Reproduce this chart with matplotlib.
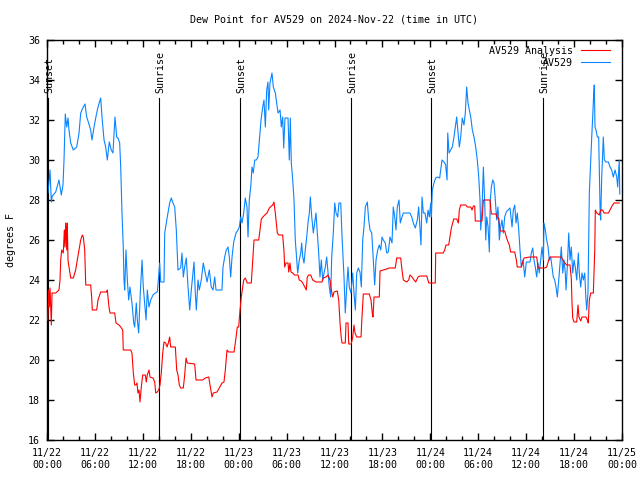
import matplotlib
matplotlib.use("Agg")
import matplotlib.pyplot as plt
from matplotlib.ticker import MultipleLocator

# hours since 2024-11-22 00:00 UTC
obs_hours = [
    0.13, 0.38, 0.54, 0.66, 1.09, 1.50, 1.79, 2.00, 2.13, 2.29, 2.47, 2.63, 2.75, 2.97,
    3.29, 3.72, 4.01, 4.22, 4.55, 4.76, 4.97, 5.17, 5.47, 5.63, 5.89, 6.17, 6.39, 6.72,
    6.92, 7.14, 7.35, 7.55, 7.80, 8.05, 8.26, 8.51, 8.73, 8.89, 9.10, 9.23, 9.39, 9.55,
    9.64, 9.73, 9.89, 10.06, 10.23, 10.39, 10.64, 10.86, 10.98, 11.18, 11.31, 11.48,
    11.68, 11.90, 12.06, 12.23, 12.40, 12.56, 12.77, 12.99, 13.27, 13.56, 13.81, 13.94,
    14.11, 14.24, 14.65, 14.74, 15.06, 15.36, 15.56, 15.78, 15.99, 16.19, 16.40, 16.74,
    16.90, 17.07, 17.24, 17.44, 17.66, 17.87, 18.07, 18.28, 18.41, 18.57, 18.70, 18.91,
    19.07, 19.32, 19.57, 19.82, 20.04, 20.32, 20.57, 20.79, 21.00, 21.16, 21.91, 22.04,
    22.25, 22.45, 22.66, 22.83, 23.00, 23.17, 23.38, 23.67, 23.92, 24.08, 24.26, 24.42,
    24.63, 24.83, 25.04, 25.17, 25.33, 25.51, 25.67, 25.83, 26.01, 26.21, 26.42, 26.63,
    26.80, 27.01, 27.17, 27.34, 27.51, 27.67, 27.76, 27.92, 28.17, 28.34, 28.59, 28.76,
    28.93, 29.18, 29.34, 29.51, 29.64, 29.80, 30.18, 30.34, 30.47, 30.59, 30.77, 30.93,
    31.09, 31.27, 31.39, 31.59, 31.77, 31.89, 32.02, 32.18, 32.34, 32.52, 32.72, 32.85,
    32.97, 33.15, 33.35, 33.52, 33.68, 33.85, 34.02, 34.18, 34.35, 34.52, 34.69, 34.85,
    35.02, 35.19, 35.35, 35.52, 35.65, 35.85, 36.03, 36.19, 36.40, 36.56, 36.78, 36.94,
    37.19, 37.35, 37.53, 37.69, 37.85, 38.06, 38.28, 38.44, 38.61, 38.78, 38.98, 39.19,
    39.36, 39.53, 39.69, 39.86, 40.11, 40.28, 40.45, 40.66, 40.86, 41.03, 41.20, 41.41,
    41.61, 41.79, 41.95, 42.11, 42.36, 42.54, 42.74, 42.95, 43.20, 43.36, 43.54, 43.70,
    43.86, 44.08, 44.24, 44.45, 44.62, 45.45, 45.67, 45.87, 46.12, 46.37, 46.54, 46.71,
    46.83, 46.96, 47.12, 47.33, 47.55, 47.71, 47.87, 48.05, 48.12, 48.25, 48.46, 48.67,
    48.87, 49.17, 49.30, 49.46, 49.71, 49.92, 50.09, 50.18, 50.34, 50.55, 50.75, 50.96,
    51.13, 51.30, 51.47, 51.63, 51.80, 52.00, 52.21, 52.38, 52.55, 52.72, 52.88, 53.06,
    53.26, 53.47, 53.68, 53.88, 54.06, 54.22, 54.31, 54.47, 54.64, 54.81, 54.94, 55.06,
    55.23, 55.39, 55.51, 55.64, 55.81, 55.97, 56.14, 56.31, 56.47, 56.64, 56.81, 56.97,
    57.14, 57.31, 57.51, 57.73, 57.98, 58.23, 58.39, 58.57, 58.73, 58.89, 59.07, 59.23,
    59.39, 59.61, 59.82, 60.02, 60.48, 60.64, 60.82, 60.98, 61.14, 61.32, 61.48, 61.64,
    61.82, 61.98, 62.15, 62.23, 62.40, 62.57, 62.74, 62.90, 63.07, 63.24, 63.40, 63.57,
    63.74, 63.90, 64.08, 64.24, 64.40, 64.58, 64.74, 64.90, 64.99, 65.15, 65.33, 65.49,
    65.65, 65.83, 65.99, 66.15, 66.33, 66.53, 66.65, 66.83, 66.99, 67.16, 67.33, 67.49,
    67.58, 67.74, 67.83, 67.91, 68.08, 68.21, 68.33, 68.46, 68.53, 68.62, 68.75, 68.91,
    69.08, 69.25, 69.33, 69.46, 69.66, 69.79, 70.00, 70.29, 70.50, 70.71, 70.91, 71.13,
    71.34, 71.46, 71.59, 71.66, 71.72,
]
obs_dewpt = [
    28.35, 29.5, 27.9, 28.2, 28.4, 29.0, 28.25, 28.75, 30.0, 32.3, 31.65, 32.1, 31.5, 30.85,
    30.5, 30.65, 31.35, 32.35, 32.65, 32.8, 32.15, 31.9, 31.5, 31.0, 31.65, 32.25, 32.65, 33.1,
    32.0, 31.0, 30.65, 30.0, 30.9, 30.5, 30.35, 32.15, 31.15, 31.1, 30.85, 29.65, 27.35, 25.65,
    24.0, 23.5, 25.5, 24.0, 23.0, 23.65, 22.85, 21.85, 21.65, 22.85, 22.0, 21.35,
    23.35, 25.0, 23.65, 22.85, 22.0, 23.5, 22.65, 23.0, 23.25, 23.35, 23.4, 24.0,
    24.85, 23.9, 23.9, 26.35, 27.15, 27.85, 28.1, 27.85, 27.65, 26.5, 24.5, 24.6,
    25.35, 24.15, 24.65, 25.1, 23.65, 22.5, 23.5, 24.35, 24.9, 23.35, 22.5, 24.0,
    23.5, 24.0, 24.85, 24.35, 23.9, 24.5, 23.65, 23.5, 24.15, 23.5, 23.5, 24.65,
    25.15, 25.5, 25.65, 25.15, 24.15, 25.15, 25.9, 26.35, 26.5, 26.65, 27.15, 26.85,
    27.35, 28.1, 27.65, 26.15, 28.0, 28.65, 29.65, 29.35, 30.0, 30.0, 30.15, 31.15,
    32.0, 32.65, 33.0, 31.65, 33.5, 33.9, 32.5, 33.85, 34.35, 33.65, 33.35, 32.85,
    32.35, 32.5, 31.65, 32.15, 30.6, 32.1, 32.1, 30.0, 32.1, 29.85, 29.0, 28.0,
    26.0, 25.0, 24.35, 25.0, 25.35, 25.85, 25.15, 24.85, 25.5, 26.15, 27.0, 27.35,
    28.15, 27.15, 26.35, 26.85, 27.35, 26.35, 25.35, 24.15, 25.0, 24.0, 24.35, 24.65,
    25.15, 24.35, 23.65, 23.15, 25.15, 26.35, 27.85, 27.35, 27.15, 27.85, 27.85, 26.2,
    24.15, 22.35, 23.65, 24.65, 23.65, 23.35, 24.35, 23.35, 22.5, 24.35, 24.6, 24.4,
    23.65, 26.0, 26.65, 27.65, 27.9, 27.0, 26.5, 26.35, 25.0, 23.75, 25.0, 25.5,
    25.75, 25.5, 26.15, 26.0, 25.85, 25.35, 25.4, 26.15, 25.85, 27.65, 27.15, 26.5,
    27.65, 28.0, 26.85, 27.15, 27.35, 27.35, 27.15, 26.85, 26.6, 27.0, 27.65, 26.5,
    25.75, 28.15, 27.35, 27.35, 26.85, 27.5, 27.15, 27.85, 27.15, 28.5, 28.85, 29.1,
    29.15, 29.1, 29.5, 30.0, 29.9, 29.75, 29.0, 31.35, 30.35, 30.5, 30.65, 31.15,
    31.65, 32.15, 31.35, 30.65, 31.15, 32.1, 31.75, 32.35, 33.65, 32.85, 32.5, 32.15,
    31.5, 31.15, 30.65, 30.0, 29.15, 28.0, 26.5, 27.5, 29.65, 27.85, 26.0, 27.15,
    26.65, 25.4, 28.0, 28.65, 29.0, 28.85, 28.0, 27.0, 27.65, 26.0, 26.65, 27.0,
    26.35, 27.15, 27.4, 27.5, 27.6, 26.65, 27.5, 27.75, 26.85, 27.35, 26.5, 25.5,
    24.65, 25.0, 24.15, 24.9, 24.9, 25.35, 25.6, 25.0, 24.65, 24.15, 24.85, 24.35,
    25.0, 25.65, 25.0, 26.85, 26.5, 26.0, 25.65, 25.0, 25.15, 24.65, 24.15, 24.0,
    23.65, 23.15, 24.0, 24.85, 25.65, 24.35, 25.0, 24.35, 23.5, 24.65, 26.35, 25.0,
    25.65, 24.35, 25.0, 24.65, 24.0, 25.35, 24.35, 23.65, 24.35, 24.0, 24.35, 23.0,
    22.5, 23.35, 26.0, 28.35, 30.0, 31.15, 32.15, 33.35, 33.75, 31.65, 31.5, 31.15,
    31.15, 27.65, 27.0, 29.15, 31.15, 30.0, 29.9, 29.9, 29.65, 29.5, 29.15, 29.5,
    29.15, 28.65, 29.5, 30.0, 28.3,
]

ana_hours = [
    0.09, 0.21, 0.29, 0.38, 0.54, 0.63, 1.09, 1.50, 1.63, 1.72, 1.84, 2.04, 2.17, 2.25,
    2.34, 2.47, 2.54, 2.63, 2.75, 2.97, 3.29, 3.59, 3.79, 4.01, 4.22, 4.42, 4.55, 4.72,
    4.85, 5.47, 5.60, 5.67, 6.22, 6.39, 6.72, 7.48, 7.55, 7.76, 7.89, 8.48, 8.64, 9.02,
    9.23, 9.48, 9.55, 10.48, 10.64, 10.81, 10.98, 11.14, 11.27, 11.39, 11.52, 11.65,
    11.81, 11.98, 12.31, 12.43, 12.56, 12.77, 12.90, 13.27, 13.49, 13.61, 13.81, 13.99,
    14.15, 14.31, 14.49, 14.65, 14.86, 15.03, 15.19, 15.36, 15.49, 16.07, 16.24, 16.40,
    16.57, 16.74, 17.07, 17.24, 17.41, 17.57, 18.49, 18.66, 19.50, 19.82, 20.25, 20.45,
    20.66, 20.82, 21.29, 21.58, 21.91, 22.16, 22.33, 22.54, 22.75, 23.42, 23.63, 23.83,
    24.00, 24.17, 24.33, 24.51, 24.63, 24.83, 25.08, 25.58, 25.76, 25.92, 26.51, 26.67,
    26.83, 27.26, 27.55, 27.84, 28.26, 28.42, 28.59, 28.84, 29.01, 29.51, 29.68, 29.76,
    29.93, 30.18, 30.27, 30.43, 30.55, 30.77, 30.97, 31.43, 31.59, 31.84, 32.02, 32.27,
    32.47, 32.59, 32.77, 33.02, 33.27, 33.68, 34.44, 34.60, 34.94, 35.19, 35.44, 35.60,
    35.78, 35.94, 36.35, 36.53, 36.69, 36.85, 36.94, 37.35, 37.44, 37.69, 37.78, 38.10,
    38.28, 38.44, 38.57, 38.78, 39.32, 39.44, 39.61, 40.36, 40.57, 40.73, 40.82, 40.95,
    41.61, 41.70, 42.54, 42.79, 43.61, 43.79, 44.29, 44.45, 44.62, 45.04, 45.29, 45.45,
    45.71, 45.96, 46.17, 46.46, 46.71, 47.55, 47.80, 48.62, 48.67, 49.62, 49.80, 49.96,
    50.30, 50.46, 50.63, 50.80, 50.93, 51.30, 51.51, 51.63, 51.80, 52.43, 52.63, 53.06,
    53.22, 53.39, 53.56, 53.63, 54.47, 54.64, 55.47, 55.55, 55.64, 56.23, 56.39, 56.57,
    56.73, 57.31, 57.51, 57.73, 57.89, 58.06, 58.57, 58.77, 58.89, 59.39, 59.57, 59.73,
    60.48, 61.32, 61.48, 61.57, 62.32, 62.57, 62.82, 62.99, 64.40, 64.74, 65.07, 65.49,
    65.65, 65.74, 65.83, 65.99, 66.33, 66.49, 66.61, 66.83, 66.99, 67.49, 67.66, 67.78,
    67.91, 68.08, 68.41, 68.59, 68.66, 68.84, 69.16, 69.33, 69.58, 69.74, 70.29, 70.50,
    70.75, 71.00, 71.66,
]
ana_dewpt = [
    22.0, 23.5, 22.65, 23.6, 21.75, 23.35, 23.35, 23.5, 24.0, 25.0, 25.5, 25.35, 26.5, 25.65,
    26.85, 25.5, 26.85, 25.0, 24.65, 24.1, 24.1, 24.5, 25.0, 25.5, 26.0, 26.25, 26.15, 25.5,
    23.75, 23.75, 23.1, 22.5, 22.5, 23.0, 23.4, 23.4, 23.5, 22.65, 22.35, 22.35, 21.85, 21.75,
    21.65, 21.5, 20.5, 20.5, 20.35, 19.35, 18.75, 18.75, 18.85, 18.35, 18.5, 17.9,
    18.65, 19.25, 19.25, 18.9, 19.25, 19.5, 19.15, 19.1, 18.9, 18.35, 18.4, 18.5,
    18.75, 19.35, 20.35, 20.9, 20.85, 20.65, 20.85, 21.15, 20.65, 20.65, 19.5, 19.25,
    18.75, 18.6, 18.6, 19.25, 20.1, 19.85, 19.8, 19.0, 19.0, 19.1, 19.15, 18.65,
    18.15, 18.35, 18.4, 18.6, 18.85, 18.9, 19.5, 20.5, 20.4, 20.4, 21.0, 21.65,
    21.65, 22.5, 23.15, 23.65, 24.0, 24.1, 23.85, 23.85, 25.0, 26.0, 26.0, 26.5,
    27.05, 27.25, 27.35, 27.6, 27.75, 27.9, 27.35, 26.35, 26.25, 26.25, 25.4, 24.65,
    24.85, 24.85, 24.4, 24.85, 24.4, 24.35, 24.25, 24.25, 24.0, 23.95, 23.85, 23.65,
    23.5, 24.15, 24.25, 24.25, 24.0, 23.9, 23.9, 24.1, 24.15, 24.25, 24.0, 23.5,
    23.15, 23.4, 23.45, 23.0, 21.85, 21.1, 20.85, 20.85, 21.85, 21.85, 20.8, 20.8,
    21.15, 21.75, 21.35, 21.15, 21.15, 22.15, 23.3, 23.3, 23.0, 22.35, 22.15, 23.15,
    23.15, 24.45, 24.55, 24.6, 24.6, 25.1, 25.1, 24.5, 24.0, 23.9, 24.0, 24.25,
    24.15, 24.0, 23.9, 24.15, 24.2, 24.2, 23.85, 23.85, 25.35, 25.35, 25.5, 25.75,
    25.75, 26.15, 26.6, 26.85, 27.05, 27.05, 26.85, 27.5, 27.75, 27.75, 27.65, 27.65,
    27.5, 27.7, 27.7, 26.95, 26.95, 28.0, 28.0, 27.65, 27.3, 27.3, 27.1, 27.1,
    26.45, 26.45, 26.15, 25.9, 25.75, 25.4, 25.4, 25.0, 24.65, 24.65, 24.9, 25.1,
    25.15, 25.15, 24.65, 24.6, 24.6, 24.65, 25.0, 25.15, 25.15, 24.9, 24.75, 24.75,
    24.1, 22.85, 22.1, 21.9, 21.9, 22.75, 22.15, 21.95, 22.15, 22.15, 22.0, 21.85,
    23.0, 23.35, 23.35, 25.5, 27.5, 27.35, 27.25, 27.5, 27.5, 27.35, 27.35, 27.5,
    27.7, 27.85, 27.85,
]

sun_hours = [0.13, 14.02, 24.17, 38.07, 48.08, 62.11]
sun_names = ["Sunset", "Sunrise", "Sunset", "Sunrise", "Sunset", "Sunrise"]

tick_hours = [0, 6, 12, 18, 24, 30, 36, 42, 48, 54, 60, 66, 72]
tick_labels = [
    "11/22\n00:00", "11/22\n06:00", "11/22\n12:00", "11/22\n18:00",
    "11/23\n00:00", "11/23\n06:00", "11/23\n12:00", "11/23\n18:00",
    "11/24\n00:00", "11/24\n06:00", "11/24\n12:00", "11/24\n18:00",
    "11/25\n00:00",
]

plt.rcParams["font.family"] = "DejaVu Sans Mono"
plt.rcParams["font.size"] = 7.2

fig = plt.figure(figsize=(6.4, 4.8), dpi=100)
ax = fig.add_axes([47 / 640, 40 / 480, 575 / 640, 400 / 480])

# sunrise / sunset markers
for h, name in zip(sun_hours, sun_names):
    ax.plot([h, h], [16, 33.1], color="black", lw=0.8, zorder=1)
    ax.text(h + 0.15, 33.35, name, rotation=90, ha="center", va="bottom")

ax.plot(ana_hours, ana_dewpt, color="#ff0000", lw=0.8, label="AV529 Analysis", zorder=3)
ax.plot(obs_hours, obs_dewpt, color="#0a84ff", lw=0.8, label="AV529", zorder=2)

ax.set_xlim(0, 72)
ax.set_ylim(16, 36)
ax.set_xticks(tick_hours)
ax.set_xticklabels(tick_labels, linespacing=1.35)
ax.xaxis.set_minor_locator(MultipleLocator(2))
ax.yaxis.set_major_locator(MultipleLocator(2))
ax.tick_params(which="both", direction="in", top=True, right=True, width=1)
ax.tick_params(which="major", length=5)
ax.tick_params(which="minor", length=3)
ax.tick_params(axis="x", which="major", pad=5.5)
ax.tick_params(axis="y", which="major", pad=5)
for s in ax.spines.values():
    s.set_linewidth(1)

ax.set_ylabel("degrees F", labelpad=9)
ax.set_title("Dew Point for AV529 on 2024-Nov-22 (time in UTC)", fontsize=7.2, pad=12.5)

ax.legend(loc="upper right", bbox_to_anchor=(0.986, 0.995), frameon=False,
          markerfirst=False, handlelength=2.9, borderaxespad=0,
          labelspacing=0.2, handletextpad=0.8)

fig.savefig("out.png", dpi=100)
